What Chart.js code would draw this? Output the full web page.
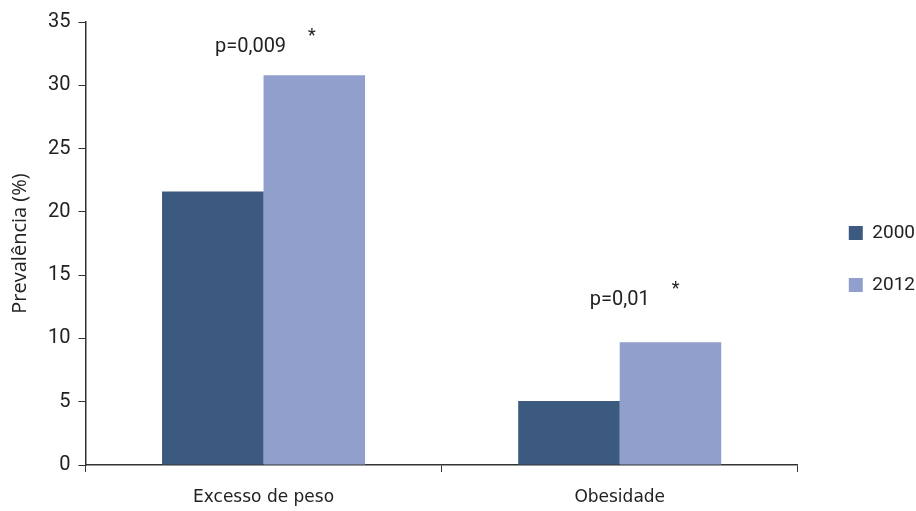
<!DOCTYPE html>
<html>
<head>
<meta charset="utf-8">
<script src="https://cdn.jsdelivr.net/npm/chart.js@4.4.1/dist/chart.umd.min.js"></script>
<style>
  html, body { margin: 0; padding: 0; background: #fff; }
  #wrap { width: 916px; height: 511px; }
</style>
</head>
<body>
<div id="wrap"><canvas id="prevChart"></canvas></div>
<script>
// dados
const categorias = ['Excesso de peso', 'Obesidade'];
const valores2000 = [21.6, 5.05];
const valores2012 = [30.8, 9.7];
const pValores = ['p=0,009', 'p=0,01'];
const pAlturas = [33.0, 13.0]; // altura do texto em unidades do eixo y

const cor2000 = '#3c5a80';
const cor2012 = '#909fcb';

// escreve os p-valores e o asterisco acima de cada grupo
const pTexto = {
    id: 'pTexto',
    afterDatasetsDraw(chart) {
        const ctx = chart.ctx;
        const xs = chart.scales.x, ys = chart.scales.y;
        ctx.save();
        ctx.fillStyle = '#222';
        ctx.textBaseline = 'middle';
        pValores.forEach((txt, i) => {
            const cx = xs.getPixelForValue(i);
            const cy = ys.getPixelForValue(pAlturas[i]);
            ctx.font = '20px Roboto';
            ctx.textAlign = 'center';
            const w = ctx.measureText(txt).width;
            const x0 = cx - (i === 0 ? 13 : 0);
            ctx.fillText(txt, x0, cy);
            ctx.font = '18px Roboto';
            ctx.textAlign = 'left';
            ctx.fillText('*', x0 + w / 2 + 22, cy - 11);
        });
        ctx.restore();
    }
};

// eixo vazio, só para reservar espaço
const vazio = (lado, tam) => ({
    position: lado,
    display: true,
    ticks: { display: false },
    grid: { display: false },
    border: { display: false },
    afterFit(s) { if (lado === 'top') s.height = tam; else s.width = tam; }
});

new Chart(document.getElementById('prevChart').getContext('2d'), {
    type: 'bar',
    data: {
        labels: categorias,
        datasets: [{
            label: '2000',
            data: valores2000,
            backgroundColor: cor2000,
            borderWidth: 0
        }, {
            label: '2012',
            data: valores2012,
            backgroundColor: cor2012,
            borderWidth: 0
        }]
    },
    options: {
        responsive: true,
        maintainAspectRatio: false,
        animation: false,
        layout: { padding: { top: 7, right: -9, bottom: 0, left: 8 } },
        datasets: { bar: { categoryPercentage: 0.57, barPercentage: 1.0 } },
        scales: {
            y: {
                min: 0, max: 35,
                ticks: { stepSize: 5, color: '#222', font: { family: 'Roboto', size: 20 }, padding: 8 },
                grid: { drawOnChartArea: false, drawTicks: true, tickLength: 7, color: '#333' },
                border: { display: true, color: '#333', width: 1.5 },
                title: { display: true, text: 'Prevalência (%)', color: '#222', font: { family: 'Open Sans', size: 20 }, padding: { top: 0, bottom: 8 } }
            },
            topo: vazio('top', 15),
            lado: vazio('right', 18),
            x: {
                ticks: { color: '#222', font: { family: 'DejaVu Sans', size: 17 }, padding: 15 },
                grid: { drawOnChartArea: false, drawTicks: true, tickLength: 7, offset: true, color: '#333' },
                border: { display: true, color: '#333', width: 1.5 },
                afterFit(s) { s.height = 46; }
            }
        },
        plugins: {
            legend: {
                display: true,
                position: 'right',
                labels: {
                    color: '#222',
                    font: { family: 'Roboto', size: 19 },
                    boxWidth: 14, boxHeight: 14,
                    padding: 33
                }
            },
            tooltip: { enabled: false }
        }
    },
    plugins: [pTexto]
});
</script>
</body>
</html>
